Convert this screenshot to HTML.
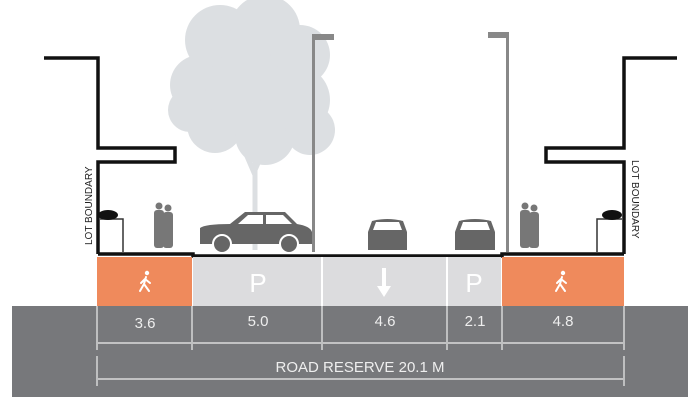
<!DOCTYPE html>
<html><head><meta charset="utf-8"><style>
html,body{margin:0;padding:0;background:#fff;}
svg{display:block;font-family:"Liberation Sans",sans-serif;}
</style></head><body>
<svg width="700" height="416" viewBox="0 0 700 416" xmlns="http://www.w3.org/2000/svg">
<rect width="700" height="416" fill="#fff"/>
<!-- tree -->
<g fill="#dcdfe2">
<circle cx="220" cy="40" r="35"/><circle cx="265" cy="30" r="35"/><circle cx="300" cy="55" r="30"/>
<circle cx="200" cy="85" r="30"/><circle cx="245" cy="90" r="40"/><circle cx="295" cy="100" r="35"/>
<circle cx="215" cy="125" r="28"/><circle cx="265" cy="135" r="30"/><circle cx="310" cy="130" r="25"/>
<circle cx="190" cy="110" r="22"/>
</g>
<g stroke="#dcdfe2" fill="none"><path d="M255 250 L255 150 M255 175 L240 140 M255 170 L268 140" stroke-width="5"/></g>
<!-- lamp posts -->
<rect x="312" y="34" width="3" height="218" fill="#888"/><rect x="312" y="34" width="22" height="6" fill="#888"/>
<rect x="506" y="32" width="3" height="220" fill="#888"/><rect x="488" y="32" width="20" height="6" fill="#888"/>
<!-- buildings -->
<g fill="none" stroke="#111" stroke-width="3.5">
<path d="M44 58 H98 V148 H175 V162 H98 V254"/>
<path d="M677 58 H624 V148 H546 V162 H624 V254"/>
</g>
<g fill="none" stroke="#333" stroke-width="1.5"><path d="M100 219 H123 V252"/><path d="M622 219 H597 V252"/></g>
<ellipse cx="108" cy="215" rx="10" ry="5" fill="#111"/><ellipse cx="612" cy="215" rx="10" ry="5" fill="#111"/>
<text transform="translate(92,245) rotate(-90)" font-size="10" fill="#222">LOT BOUNDARY</text>
<text transform="translate(632,160) rotate(90)" font-size="10" fill="#222">LOT BOUNDARY</text>
<!-- people -->
<g fill="#777">
<circle cx="159" cy="206" r="3.5"/><rect x="154" y="210" width="10" height="38" rx="3"/>
<circle cx="168" cy="208" r="3.5"/><rect x="163" y="212" width="10" height="36" rx="3"/>
<circle cx="525" cy="206" r="3.5"/><rect x="520" y="210" width="10" height="38" rx="3"/>
<circle cx="534" cy="208" r="3.5"/><rect x="529" y="212" width="10" height="36" rx="3"/>
</g>
<!-- side car -->
<g fill="#666">
<path d="M200 228 Q205 224 230 224 L245 212 H285 L297 224 Q310 226 312 232 V244 H200 Z"/>
<circle cx="222" cy="244" r="9" stroke="#fff" stroke-width="2"/><circle cx="289" cy="244" r="9" stroke="#fff" stroke-width="2"/>
</g>
<g fill="#fff"><path d="M248 215 H263 V224 H238 Z"/><path d="M266 215 H283 L292 224 H266 Z"/></g>
<!-- front cars -->
<g fill="#666">
<path d="M368 232 L372 221 Q387 217 403 221 L407 232 V250 H368 Z"/>
<path d="M455 232 L459 221 Q475 217 491 221 L495 232 V250 H455 Z"/>
</g>
<g fill="#fff"><path d="M373 230 L376 222 H399 L402 230 Z"/><path d="M460 230 L463 222 H487 L490 230 Z"/></g>
<!-- ground -->
<path d="M98 254 H193 V256 H502 V254 H624" fill="none" stroke="#111" stroke-width="3.5"/>
<!-- bands -->
<rect x="97" y="257" width="95" height="49" fill="#ef8a5c"/>
<rect x="193" y="257" width="308" height="49" fill="#dcdcde"/>
<rect x="502" y="257" width="122" height="49" fill="#ef8a5c"/>
<g stroke="#fff" stroke-width="2"><line x1="322" y1="257" x2="322" y2="306"/><line x1="447" y1="257" x2="447" y2="306"/></g>
<g fill="#fff" font-size="26" text-anchor="middle"><text x="258" y="292">P</text><text x="474" y="292">P</text></g>
<path d="M382 268 V286 H377 L384 297 L391 286 H386 V268 Z" fill="#fff"/>
<!-- walkers -->
<g fill="none" stroke="#fff" stroke-width="2" stroke-linecap="round">
<path d="M146 277 L144 284 L140 291 M144 284 L149 291 M145 279 L141 283 M145 279 L150 283"/>
<path d="M562 277 L560 284 L556 291 M560 284 L565 291 M561 279 L557 283 M561 279 L566 283"/>
</g>
<circle cx="147" cy="273" r="2.2" fill="#fff"/><circle cx="563" cy="273" r="2.2" fill="#fff"/>
<!-- gray base -->
<rect x="12" y="306" width="676" height="91" fill="#77787b"/>
<g stroke="#eee" stroke-width="1.2" fill="none">
<path d="M97 306 V350 M192 306 V350 M322 306 V350 M447 306 V350 M502 306 V350 M624 306 V350"/>
<path d="M98 343 H191 M193 343 H321 M323 343 H446 M448 343 H501 M503 343 H623"/>
<path d="M97 356 V386 M624 356 V386 M98 379 H623"/>
</g>
<g fill="#eee" font-size="15" text-anchor="middle">
<text x="145" y="328">3.6</text><text x="258" y="326">5.0</text><text x="385" y="326">4.6</text><text x="475" y="326">2.1</text><text x="563" y="326">4.8</text>
<text x="360" y="372">ROAD RESERVE 20.1 M</text>
</g>
</svg>
</body></html>
